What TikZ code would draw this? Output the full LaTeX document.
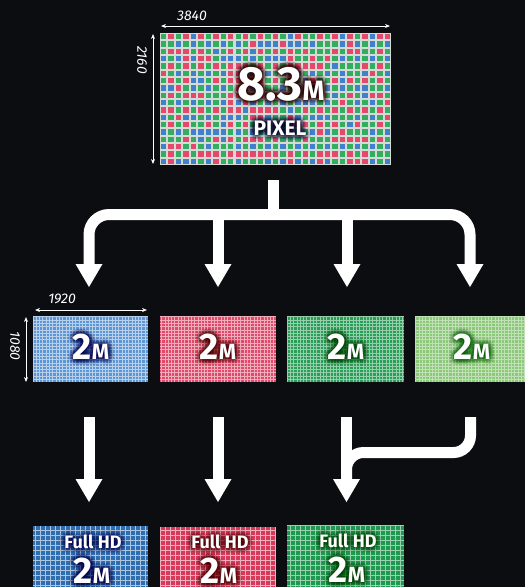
\documentclass[tikz,border=0pt]{standalone}
\usepackage{fontspec}
\setmainfont{Fira Sans}
\usetikzlibrary{arrows.meta}
\definecolor{bg}{HTML}{0C0D11}
\definecolor{pr}{HTML}{E4486A}
\definecolor{pg}{HTML}{33AD60}
\definecolor{pb}{HTML}{4080CC}
\definecolor{gridw}{HTML}{D4DAD4}
\definecolor{b2}{HTML}{5E95D4}
\definecolor{r2}{HTML}{E04A6A}
\definecolor{g2}{HTML}{2A9E58}
\definecolor{l2}{HTML}{8DC77A}
\definecolor{b3}{HTML}{2E6DB0}
\definecolor{r3}{HTML}{D8385A}
\definecolor{g3}{HTML}{1E9A50}
\tikzset{
  dimarrow/.style={white, line width=0.8pt, {Stealth[length=5pt,width=4pt]}-{Stealth[length=5pt,width=4pt]}},
  dimlabel/.style={text=white, font=\itshape\fontsize{14}{14}\selectfont, inner sep=0pt},
  shaft/.style={white, line width=11pt},
  fatshaft/.style={white, line width=11pt, rounded corners=20pt},
  whitetext/.style={text=white, inner sep=0pt},
}
% name, center, halo colour, text, opacity
\newcommand{\halotext}[5]{%
  \foreach \r in {1.4,2.8,4.2,5.6}{\foreach \a in {0,30,...,330}{%
    \node[text=#3, opacity=#5, inner sep=0pt] at ([shift={(\a:\r)}]#2) {#4};}}%
  \node[whitetext] (#1) at (#2) {#4};}
\newcommand{\gridbox}[8]{% name x1 y1 x2 y2 color step opacity
  \fill[#6] (#2,#3) rectangle (#4,#5);
  \draw[white, opacity=#8, line width=1pt, step=#7] (#2,#3) grid (#4,#5);
  \coordinate (#1) at ({(#2+#4)/2},{(#3+#5)/2});}
\newcommand{\headat}[1]{\fill[white] ([xshift=-13.5pt]#1) -- ([xshift=13.5pt]#1) -- ([yshift=-23pt]#1) -- cycle;}
\newcommand{\twoM}{\bfseries\fontsize{37}{37}\selectfont 2\fontsize{22}{22}\selectfont M}
\begin{document}
\begin{tikzpicture}[x=1pt,y=-1pt]
\useasboundingbox (0,0) rectangle (525,587);
\clip (0,0) rectangle (525,587);
\fill[bg] (0,0) rectangle (525,587);
% ---------- top mosaic
\fill[gridw] (160,33) rectangle (391,165);
\pgfmathsetseed{5}
\foreach \i in {0,...,30}{\foreach \j in {0,...,17}{%
  \pgfmathsetmacro\rr{rnd}%
  \pgfmathsetmacro\xa{160+\i*7.452+1.0}%
  \pgfmathsetmacro\ya{33+\j*7.333+1.0}%
  \pgfmathsetmacro\xb{\xa+5.4}%
  \pgfmathsetmacro\yb{\ya+5.3}%
  \pgfmathtruncatemacro\base{mod(\i+\j,2)==0 ? 3 : (mod(\j,2)==0 ? 1 : 2)}%
  \pgfmathtruncatemacro\cc{\rr<0.65 ? \base : (\rr<0.82 ? 1 : (\rr<0.91 ? 2 : 3))}%
  \ifcase\cc\or
    \fill[pr] (\xa,\ya) rectangle (\xb,\yb);\or
    \fill[pb] (\xa,\ya) rectangle (\xb,\yb);\or
    \fill[pg] (\xa,\ya) rectangle (\xb,\yb);\fi
}}
\coordinate (top) at (275.5,99);
\halotext{big}{281,84}{black!85!red}{\bfseries\fontsize{48}{48}\selectfont 8.3\fontsize{28}{28}\selectfont M}{0.09}
\halotext{pix}{280,128.5}{black!85!blue}{\bfseries\fontsize{21}{21}\selectfont PIXEL}{0.09}
% dimensions top
\coordinate (tw1) at (161,26); \coordinate (tw2) at (390,26);
\draw[dimarrow] (tw1) -- (tw2);
\node[dimlabel] (t3840) at (192,16) {3840};
\coordinate (th1) at (153,34); \coordinate (th2) at (153,164);
\draw[dimarrow] (th1) -- (th2);
\node[dimlabel, rotate=-90] (t2160) at (142,60) {2160};
% ---------- row 2
\gridbox{B2}{33}{316}{148}{382}{b2}{3.3pt}{0.55}
\gridbox{R2}{160}{316}{276}{382}{r2}{3.3pt}{0.55}
\gridbox{G2}{287}{316}{404}{382}{g2}{3.3pt}{0.5}
\gridbox{L2}{415}{316}{530}{382}{l2}{3.3pt}{0.45}
\halotext{tb2}{91,347}{black!70!blue}{\twoM}{0.09}
\halotext{tr2}{218,347}{black!70!red}{\twoM}{0.09}
\halotext{tg2}{346,347}{black!75!green}{\twoM}{0.09}
\halotext{tl2}{472,347}{black!65!green}{\twoM}{0.08}
\coordinate (bw1) at (35,310); \coordinate (bw2) at (147,310);
\draw[dimarrow] (bw1) -- (bw2);
\node[dimlabel] (t1920) at (62,299) {1920};
\coordinate (bh1) at (26,317); \coordinate (bh2) at (26,382);
\draw[dimarrow] (bh1) -- (bh2);
\node[dimlabel, rotate=-90] (t1080) at (15,346) {1080};
% ---------- row 3
\gridbox{B3}{33}{526}{148}{600}{b3}{5pt}{0.6}
\gridbox{R3}{160}{527}{276}{600}{r3}{5pt}{0.6}
\gridbox{G3}{287}{525}{404}{600}{g3}{5pt}{0.55}
\halotext{fb}{93,542}{black!70!blue}{\bfseries\fontsize{18}{18}\selectfont Full HD}{0.08}
\halotext{fr}{220,542}{black!70!red}{\bfseries\fontsize{18}{18}\selectfont Full HD}{0.08}
\halotext{fg}{348,541}{black!75!green}{\bfseries\fontsize{18}{18}\selectfont Full HD}{0.08}
\halotext{nb}{92,571}{black!70!blue}{\twoM}{0.09}
\halotext{nr}{219,571}{black!70!red}{\twoM}{0.09}
\halotext{ng}{347,570}{black!75!green}{\twoM}{0.09}
% ---------- branching arrows
\coordinate (s0) at (273.5,180);
\coordinate (s1) at (273.5,215);
\coordinate (hA) at (89,264); \coordinate (hB) at (218,264);
\coordinate (hC) at (347,264); \coordinate (hD) at (470,264);
\draw[shaft] (s0) -- (s1);
\draw[fatshaft] (hA) -- (89,214.5) -- (470,214.5) -- (hD);
\draw[shaft] (218,214.5) -- (hB);
\draw[shaft] (347,214.5) -- (hC);
\headat{hA} \headat{hB} \headat{hC} \headat{hD}
% ---------- lower arrows
\coordinate (uA) at (89,417); \coordinate (dA) at (89,479);
\coordinate (uB) at (218,417); \coordinate (dB) at (218,479);
\coordinate (uC) at (346.5,417); \coordinate (dC) at (346.5,479);
\coordinate (uD) at (470.5,417);
\draw[shaft] (uA) -- (dA);
\draw[shaft] (uB) -- (dB);
\draw[shaft] (uC) -- (dC);
\draw[white, line width=11pt, rounded corners=17pt] (uD) -- (470.5,452.5) -- (346.5,452.5) -- (dC);
\headat{dA} \headat{dB} \headat{dC}
\end{tikzpicture}
\end{document}
